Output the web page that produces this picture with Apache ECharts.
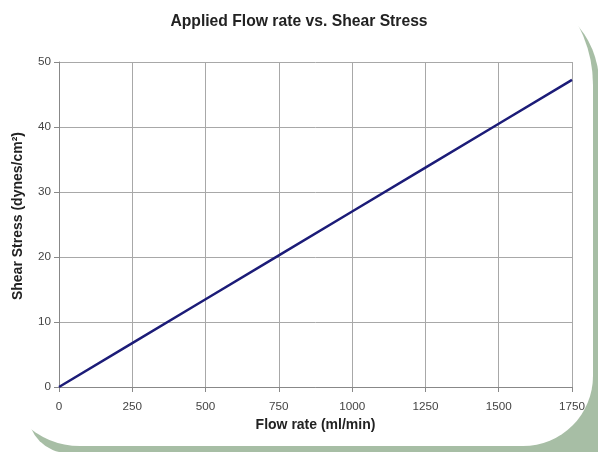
<!DOCTYPE html>
<html><head><meta charset="utf-8">
<script src="https://cdn.jsdelivr.net/npm/echarts@6/dist/echarts.min.js"></script>
<style>html,body{margin:0;padding:0;background:#fff}#c{width:598px;height:452px}</style>
</head><body><div id="c"></div>
<script>
const titleText = "Applied Flow rate vs. Shear Stress";
const xName = "Flow rate (ml/min)";
const yName = "Shear Stress (dynes/cm²)";
const flowRate = [0, 250, 500, 750, 1000, 1250, 1500, 1750];
const shearStress = [0, 6.75, 13.5, 20.25, 27, 33.75, 40.5, 47.25];

const chart = echarts.init(document.getElementById('c'), null, {renderer: 'canvas'});
const green = '#a7bea5';
const FF = '"Liberation Sans", Arial, sans-serif';
chart.setOption({
  animation: false,
  backgroundColor: '#fff',
  graphic: [
    {type: 'rect', z: -10, silent: true,
     shape: {x: 28, y: -5, width: 571, height: 458, r: [0, 88, 0, 40]},
     style: {fill: green}},
    {type: 'rect', z: -9, silent: true,
     shape: {x: 0, y: -44, width: 593, height: 490, r: [0, 129, 70, 80]},
     style: {fill: '#fff'}},
    {type: 'text', z: 10, left: 11, top: 132, rotation: Math.PI / 2,
     style: {text: yName, font: 'bold 14px ' + FF, fill: '#222'}}
  ],
  title: {
    text: titleText, left: 'center', top: 9,
    textStyle: {fontFamily: FF, fontSize: 15.7, fontWeight: 'bold', color: '#222'}
  },
  grid: {left: 59, right: 26, top: 62, bottom: 65, containLabel: false},
  xAxis: {
    type: 'value', min: 0, max: 1750, interval: 250,
    name: xName, nameLocation: 'middle', nameGap: 30,
    nameTextStyle: {fontFamily: FF, fontSize: 14, fontWeight: 'bold', color: '#222'},
    axisLine: {show: true, onZero: false, lineStyle: {color: '#888', width: 1}},
    axisTick: {show: true, length: 5, lineStyle: {color: '#888'}},
    axisLabel: {fontFamily: FF, fontSize: 11.7, color: '#444', margin: 14, formatter: v => String(v)},
    splitLine: {show: true, lineStyle: {color: '#a8a8a8', width: 1}}
  },
  yAxis: {
    type: 'value', min: 0, max: 50, interval: 10,
    axisLine: {show: true, lineStyle: {color: '#888', width: 1}},
    axisTick: {show: true, length: 5, lineStyle: {color: '#888'}},
    axisLabel: {fontFamily: FF, fontSize: 11.7, color: '#444', margin: 8},
    splitLine: {show: true, lineStyle: {color: '#a8a8a8', width: 1}}
  },
  series: [{
    type: 'line',
    data: flowRate.map((x, i) => [x, shearStress[i]]),
    symbol: 'none',
    lineStyle: {color: '#1c1c78', width: 2.5}
  }]
});
</script></body></html>
